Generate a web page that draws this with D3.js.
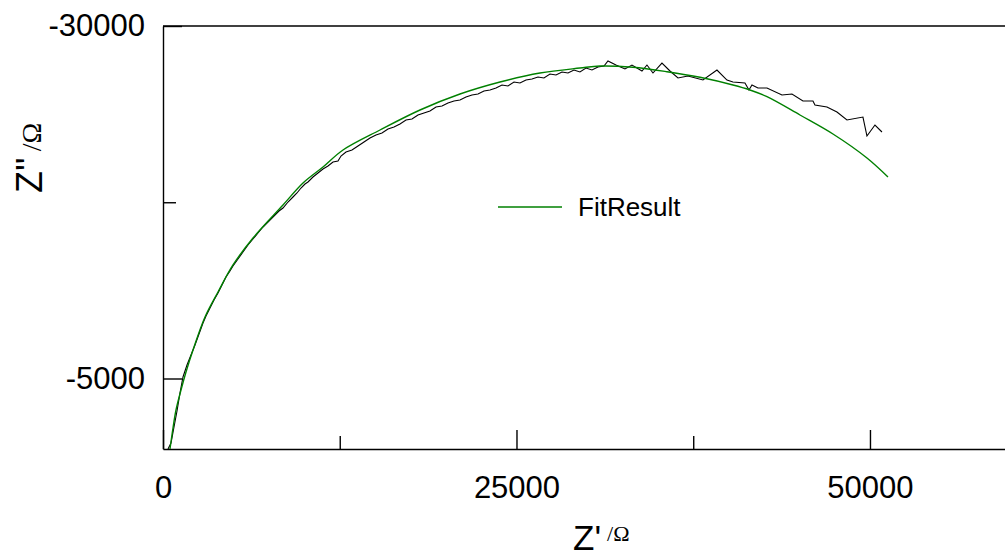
<!DOCTYPE html>
<html>
<head>
<meta charset="utf-8">
<script src="https://cdn.jsdelivr.net/npm/d3@7"></script>
<style>
  body { margin: 0; background: #fff; }
  svg { display: block; font-family: "Liberation Sans", Arial, sans-serif; }
  .axis path, .axis line { stroke: #000; stroke-width: 1.4; }
  .axis text { font-size: 31px; fill: #000; }
</style>
</head>
<body>
<svg class="nyquist" width="1005" height="558"></svg>
<script>
// measured impedance (Z' and Z'' in ohm)
const measuredRe = [354,566,778,990,1202,1414,1697,1980,2263,2546,
  2829,3041,3324,3607,3890,4172,4455,4738,4950,5304,
  5658,6011,6365,6718,7072,7426,7850,8204,8486,8840,
  9194,9476,9759,10042,10254,10608,10962,11315,11669,12022,
  12376,12588,12942,13366,13790,14215,14639,15063,15488,15912,
  16336,16761,17185,17609,18034,18458,18882,19307,19731,20155,
  20580,21004,21428,21852,22277,22701,23125,23550,23974,24398,
  24823,25247,25671,26096,26520,26944,27369,27793,28217,28642,
  29066,29490,29915,30339,30763,31188,31470,32036,32673,33168,
  33875,34228,34653,35289,35855,36421,37128,38189,39179,39886,
  40310,41159,41442,41654,42078,42715,43776,44483,45261,45968,
  46109,46958,47665,48372,49504,49787,50353,50848];
const measuredIm = [0,-426,-1560,-2695,-3972,-5106,-5957,-6666,-7376,-8156,
  -8936,-9432,-10000,-10567,-11064,-11631,-12198,-12624,-12978,-13475,
  -13971,-14468,-14893,-15319,-15744,-16099,-16524,-16879,-17092,-17517,
  -17872,-18156,-18510,-18794,-18936,-19290,-19574,-19858,-20070,-20354,
  -20425,-20780,-21063,-21205,-21489,-21772,-22056,-22269,-22411,-22694,
  -22836,-23049,-23333,-23404,-23687,-23829,-23971,-24255,-24326,-24538,
  -24680,-24751,-24964,-25106,-25177,-25389,-25460,-25602,-25815,-25744,
  -26028,-25957,-26169,-26240,-26382,-26311,-26595,-26524,-26737,-26666,
  -26879,-26737,-27021,-26879,-27091,-27162,-27517,-27233,-26950,-27233,
  -26808,-27233,-26666,-27375,-26808,-26311,-26453,-26169,-26879,-26169,
  -26028,-25957,-25460,-25815,-25602,-25602,-25106,-25177,-24680,-24680,
  -24396,-24255,-23900,-23333,-23545,-22198,-22978,-22482];

// fit result
const fitRe = [495,707,920,1273,1627,2122,2970,3890,4950,6365,8487,9901,11315,12730,
  15347,18175,21004,23833,26662,29491,30905,33239,35644,37977,40311,41513,
  42716,45049,47383,49788,51273];
const fitIm = [0,-1489,-2766,-4184,-5461,-7021,-9362,-11135,-13050,-14965,-17305,-18865,-20000,-21206,
  -22624,-24043,-25177,-26028,-26667,-27021,-27163,-27071,-26759,-26362,-25816,-25461,
  -24986,-23688,-22340,-20638,-19291];

const xMajorTicks = [0, 25000, 50000];
const xMinorTicks = [12500, 37500];
const yMajorTicks = [-30000, -5000];
const yMinorTicks = [-17500];
const legendLabel = "FitResult";

const svg = d3.select("svg.nyquist");

const x = d3.scaleLinear().domain([0, 59550]).range([163, 1005]);
const y = d3.scaleLinear().domain([0, -30000]).range([449, 26]);

// frame top line
svg.append("line")
  .attr("x1", x(0)).attr("x2", x(59550))
  .attr("y1", y(-30000)).attr("y2", y(-30000))
  .attr("stroke", "#000").attr("stroke-width", 1.4);

// x axis
svg.append("g")
  .attr("class", "axis")
  .attr("transform", "translate(0," + y(0) + ")")
  .call(d3.axisBottom(x).tickValues(xMajorTicks).tickSize(-19).tickSizeOuter(0)
    .tickPadding(27).tickFormat(d => String(d)));
svg.append("g")
  .attr("class", "axis")
  .attr("transform", "translate(0," + y(0) + ")")
  .call(d3.axisBottom(x).tickValues(xMinorTicks).tickSize(-13).tickSizeOuter(0)
    .tickFormat(() => ""))
  .select(".domain").remove();

// y axis
svg.append("g")
  .attr("class", "axis")
  .attr("transform", "translate(" + x(0) + ",0)")
  .call(d3.axisLeft(y).tickValues(yMajorTicks).tickSize(-19).tickSizeOuter(0)
    .tickPadding(18).tickFormat(d => String(d)));
svg.append("g")
  .attr("class", "axis")
  .attr("transform", "translate(" + x(0) + ",0)")
  .call(d3.axisLeft(y).tickValues(yMinorTicks).tickSize(-13).tickSizeOuter(0)
    .tickFormat(() => ""))
  .select(".domain").remove();

// curves
const measured = measuredRe.map((d, i) => [d, measuredIm[i]]);
const fit = fitRe.map((d, i) => [d, fitIm[i]]);

const line = d3.line().x(d => x(d[0])).y(d => y(d[1]));

svg.append("path")
  .datum(measured)
  .attr("d", line)
  .attr("fill", "none")
  .attr("stroke", "#000")
  .attr("stroke-width", 1.1);

svg.append("path")
  .datum(fit)
  .attr("d", d3.line().x(d => x(d[0])).y(d => y(d[1])).curve(d3.curveCatmullRom))
  .attr("fill", "none")
  .attr("stroke", "#008000")
  .attr("stroke-width", 1.4);

// legend
svg.append("line")
  .attr("x1", 498).attr("x2", 562)
  .attr("y1", 207).attr("y2", 207)
  .attr("stroke", "#008000").attr("stroke-width", 1.4);
svg.append("text")
  .attr("x", 578).attr("y", 216)
  .attr("font-size", 26)
  .text(legendLabel);

// axis titles
const xTitle = svg.append("text")
  .attr("x", 573).attr("y", 550)
  .attr("font-size", 35);
xTitle.append("tspan").text("Z'");
xTitle.append("tspan")
  .attr("dx", 6).attr("dy", -9)
  .attr("font-size", 22)
  .attr("font-family", "'Liberation Serif', 'Times New Roman', serif")
  .text("/\u03A9");

const yTitle = svg.append("text")
  .attr("transform", "translate(42,193) rotate(-90)")
  .attr("font-size", 36);
yTitle.append("tspan").text("Z''");
yTitle.append("tspan")
  .attr("dx", 6).attr("dy", -1)
  .attr("font-size", 28)
  .attr("font-family", "'Liberation Serif', 'Times New Roman', serif")
  .text("/\u03A9");
</script>
</body>
</html>
